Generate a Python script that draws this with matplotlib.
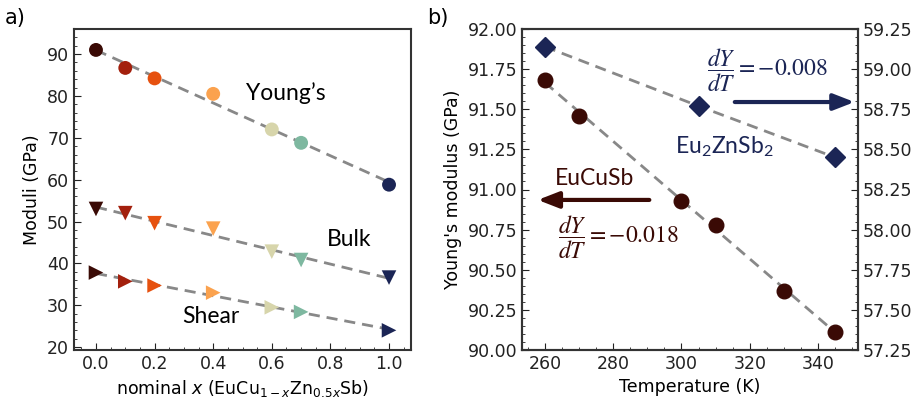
import numpy as np
import matplotlib.pyplot as plt
from matplotlib.ticker import AutoMinorLocator

plt.rcParams['font.family'] = ['DejaVu Sans']
plt.rcParams['mathtext.fontset'] = 'dejavusans'

# panel a data
x_nom = [0.0, 0.1, 0.2, 0.4, 0.6, 0.7, 1.0]
young = [91.0, 86.7, 84.2, 80.5, 72.0, 68.8, 58.8]
bulk = [53.0, 52.0, 49.6, 48.3, 42.8, 40.8, 36.6]
shear = [37.8, 35.7, 34.7, 33.0, 29.5, 28.4, 24.0]
colors = ['#3a0a05', '#a3200d', '#e6510f', '#fba24e', '#d7d5ab', '#7eb8a0', '#1b2555']

# panel b data
temp_cu = [260, 270, 300, 310, 330, 345]
ym_cu = [91.68, 91.46, 90.93, 90.78, 90.37, 90.11]
temp_zn = [260, 305, 345]
ym_zn = [59.14, 58.77, 58.45]

brown = '#3a0a05'
navy = '#1b2555'
gray = '#888888'
label_font = ['Lato', 'DejaVu Sans']
FS = 12.5


def style_axes(ax, right=False):
    ax.tick_params(which='both', direction='in', labelsize=FS, colors='#222222',
                   right=right)
    ax.tick_params(which='major', length=5)
    ax.tick_params(which='minor', length=2.5)
    ax.xaxis.set_minor_locator(AutoMinorLocator())
    ax.yaxis.set_minor_locator(AutoMinorLocator())
    for s in ax.spines.values():
        s.set_linewidth(1.5)
        s.set_color('#333333')


fig = plt.figure(figsize=(9.19, 4), dpi=100)
ax1 = fig.add_axes([74/919, 50/400, 337/919, 321/400])
ax2 = fig.add_axes([522/919, 50/400, 336/919, 321/400])

# ---- panel a
xs = np.array(x_nom)
for vals, mk, ms in ((young, 'o', 10), (bulk, 'v', 10.5), (shear, '>', 10.5)):
    p = np.polyfit(xs, vals, 1)
    ax1.plot(xs, np.polyval(p, xs), color=gray, lw=2, dashes=(4, 2.5), zorder=1)
    ax1.scatter(xs, vals, c=colors, marker=mk, s=ms**2, zorder=2, edgecolors='none')

ax1.text(0.512, 80.8, 'Young\u2019s', fontsize=16.5, family=label_font, va='center')
ax1.text(0.788, 45.6, 'Bulk', fontsize=16.5, family=label_font, va='center')
ax1.text(0.294, 27.2, 'Shear', fontsize=16.5, family=label_font, va='center')

ax1.set_xlim(-0.075, 1.075)
ax1.set_ylim(19.3, 96)
ax1.set_xticks([0.0, 0.2, 0.4, 0.6, 0.8, 1.0])
ax1.set_yticks([20, 30, 40, 50, 60, 70, 80, 90])
ax1.set_xlabel('nominal $x$ (EuCu$_{1-x}$Zn$_{0.5x}$Sb)', fontsize=FS)
ax1.set_ylabel('Moduli (GPa)', fontsize=FS)
style_axes(ax1)

# ---- panel b
tc = np.array(temp_cu)
p = np.polyfit(tc, ym_cu, 1)
ax2.plot(tc, np.polyval(p, tc), color=gray, lw=2, dashes=(4, 2.5), zorder=1)
ax2.plot(tc, ym_cu, 'o', color=brown, ms=10.5, zorder=2)
ax2.set_xlim(253.3, 351.7)
ax2.set_ylim(90.0, 92.0)
ax2.set_xticks([260, 280, 300, 320, 340])
ax2.set_yticks([90.0, 90.25, 90.5, 90.75, 91.0, 91.25, 91.5, 91.75, 92.0])
ax2.yaxis.set_major_formatter('{x:.2f}')
ax2.set_xlabel('Temperature (K)', fontsize=FS)
ax2.set_ylabel("Young's modulus (GPa)", fontsize=FS)
style_axes(ax2)

ax3 = ax2.twinx()
ax3.plot(temp_zn, ym_zn, color=gray, lw=2, dashes=(4, 2.5), zorder=1)
ax3.plot(temp_zn, ym_zn, 'D', color=navy, ms=10.5, zorder=2)
ax3.set_ylim(57.25, 59.25)
ax3.set_yticks([57.25, 57.5, 57.75, 58.0, 58.25, 58.5, 58.75, 59.0, 59.25])
ax3.yaxis.set_major_formatter('{x:.2f}')
style_axes(ax3, right=True)
ax3.tick_params(which='both', left=False)

arrow = dict(arrowstyle='-|>,head_length=0.9,head_width=0.35', lw=3, mutation_scale=14)

ax3.text(307.5, 58.99, r'$\dfrac{dY}{dT} = -0.008$', fontsize=17, color=navy,
         va='center', math_fontfamily='stix')
ax3.annotate('', xy=(351.5, 58.795), xytext=(314.8, 58.795),
             arrowprops=dict(color=navy, **arrow))
ax3.text(298.1, 58.52, 'Eu$_\\mathregular{2}$ZnSb$_\\mathregular{2}$', fontsize=16.5,
         color=navy, family=label_font, va='center')

ax2.text(263.0, 91.07, 'EuCuSb', fontsize=16.5, color=brown, family=label_font,
         va='center')
ax2.annotate('', xy=(257.1, 90.935), xytext=(291.4, 90.935),
             arrowprops=dict(color=brown, **arrow))
ax2.text(263.8, 90.70, r'$\dfrac{dY}{dT} = -0.018$', fontsize=17, color=brown,
         va='center', math_fontfamily='stix')

fig.text(5/919, 1 - 18/400, 'a)', fontsize=15, va='center')
fig.text(427/919, 1 - 18/400, 'b)', fontsize=15, va='center')

fig.savefig('out.png', dpi=100)
